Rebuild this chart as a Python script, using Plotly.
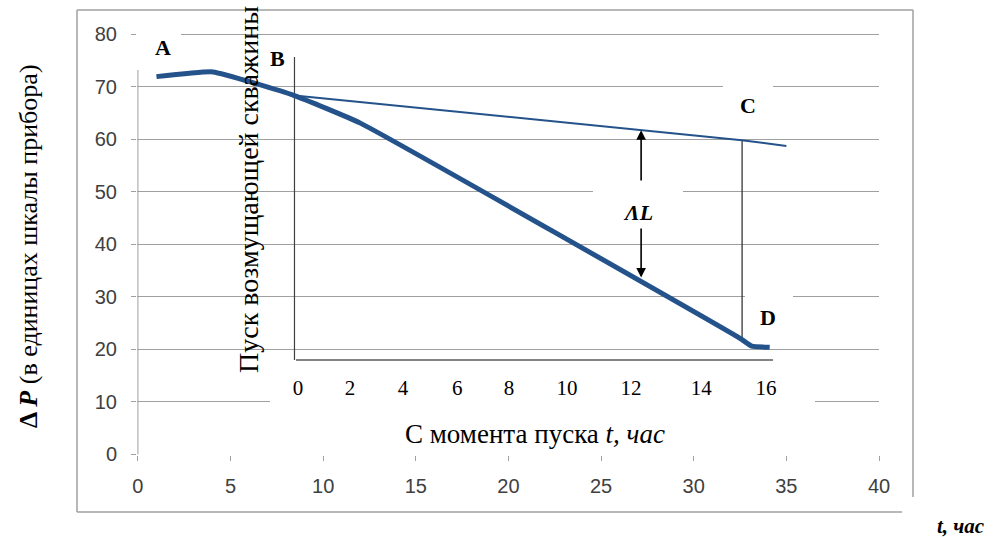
import numpy as np
import plotly.graph_objects as go

# ---------------- data ----------------
# thick curve, in main-axis hours / instrument units
main_t = [1.0, 4.05, 8.45, 11.98, 32.5, 33.14, 34.1]
main_dp = [71.9, 72.8, 68.3, 63.1, 22.1, 20.6, 20.4]
# thin extrapolation line B -> C
thin_t = [8.45, 32.6, 35.0]
thin_dp = [68.3, 59.8, 58.7]
# main axis ticks
x_ticks = [0, 5, 10, 15, 20, 25, 30, 35, 40]
y_ticks = [0, 10, 20, 30, 40, 50, 60, 70, 80]
# inner "since start" axis: labels and where they sit on the main hour axis
inner_labels = ["0", "2", "4", "6", "8", "10", "12", "14", "16"]
inner_pos = [8.64, 11.45, 14.31, 17.23, 20.03, 23.16, 26.62, 30.40, 33.9]
x_C = 32.61          # moment C / D on main axis
x_dL = 27.16         # where ΔL is measured

# ---------------- layout constants ----------------
W, H = 995, 538
ML, MR, MT, MB = 137, 116, 33, 83
XR = [-0.05, 40]
YR = [-0.1, 80.2]
PW, PH = W - ML - MR, H - MT - MB
sx = PW / (XR[1] - XR[0])
sy = PH / (YR[1] - YR[0])


def XD(p):  # pixel -> data x
    return XR[0] + (p - ML) / sx


def YD(p):  # pixel -> data y
    return YR[0] + (H - MB - p) / sy


def XP(p):  # pixel -> paper x
    return (p - ML) / PW


def YP(p):  # pixel -> paper y
    return (H - MB - p) / PH


SERIF = "Liberation Serif, Times New Roman, serif"
SANS = "Liberation Sans, Arial, sans-serif"
BLUE = "#24528a"
GRID = "#a0a0a0"

fig = go.Figure()
fig.add_trace(go.Scatter(
    x=main_t, y=main_dp, mode="lines",
    line=dict(color=BLUE, width=5, shape="spline", smoothing=0.35),
    hoverinfo="skip", showlegend=False))
fig.add_trace(go.Scatter(
    x=thin_t, y=thin_dp, mode="lines", xaxis="x2",
    line=dict(color=BLUE, width=2),
    hoverinfo="skip", showlegend=False))

shapes = []
# main y axis line (drawn as shape so label boxes can hide part of it)
shapes.append(dict(type="line", xref="x", yref="y", layer="between",
                   x0=0, x1=0, y0=0, y1=80, line=dict(color=GRID, width=1)))
# white label backgrounds
for (x0, x1, y0, y1) in [(136.5, 181, 20, 70),     # A
                         (723, 773, 75, 130),      # C
                         (593, 683, 183, 226),     # ΔL
                         (745, 793, 285, 335),     # D
                         (270, 815, 365, 412),     # inner tick labels
                         (368, 703, 415, 460)]:    # inner title
    shapes.append(dict(type="rect", xref="x", yref="y", layer="between",
                       x0=XD(x0), x1=XD(x1), y0=YD(y1), y1=YD(y0),
                       fillcolor="white", line=dict(width=0)))
# inner axis line and start line at B
y_inner = YD(360)
shapes.append(dict(type="line", xref="x", yref="y", layer="between",
                   x0=XD(296), x1=XD(773), y0=y_inner, y1=y_inner,
                   line=dict(color="#5a5a5a", width=1.5)))
shapes.append(dict(type="line", xref="x", yref="y", layer="between",
                   x0=thin_t[0], x1=thin_t[0], y0=y_inner, y1=YD(57),
                   line=dict(color="#404040", width=1.2)))
# C - D vertical
yC = float(np.interp(x_C, thin_t, thin_dp))
yD = float(np.interp(x_C, main_t, main_dp))
shapes.append(dict(type="line", xref="x", yref="y", layer="between",
                   x0=x_C, x1=x_C, y0=yD, y1=yC,
                   line=dict(color="#262626", width=1.2)))
# outer frame
fc = dict(color="#a0a0a0", width=1.5)
shapes += [
    dict(type="line", xref="paper", yref="paper", layer="above",
         x0=XP(77), x1=XP(77), y0=YP(10), y1=YP(512), line=fc),
    dict(type="line", xref="paper", yref="paper", layer="above",
         x0=XP(77), x1=XP(913), y0=YP(10), y1=YP(10), line=fc),
    dict(type="line", xref="paper", yref="paper", layer="above",
         x0=XP(913), x1=XP(913), y0=YP(10), y1=YP(497), line=fc),
    dict(type="line", xref="paper", yref="paper", layer="above",
         x0=XP(77), x1=XP(902), y0=YP(512), y1=YP(512), line=fc),
]

ann = []


def add_text(text, px, py, size, angle=0):
    ann.append(dict(text=text, xref="paper", yref="paper", x=XP(px), y=YP(py),
                    showarrow=False, textangle=angle,
                    font=dict(family=SERIF, size=size, color="black"),
                    xanchor="center", yanchor="middle"))


for t, px, py in [("<b>A</b>", 163, 47), ("<b>B</b>", 277, 59),
                  ("<b>C</b>", 748, 105), ("<b>D</b>", 768, 317),
                  ("<b><i>ΛL</i></b>", 638, 212)]:
    add_text(t, px, py, 22)
# ΔL arrows
y_up = float(np.interp(x_dL, thin_t, thin_dp))
y_lo = float(np.interp(x_dL, main_t, main_dp)) + 0.9
for tip, tail in [(y_up, YD(182)), (y_lo, YD(227))]:
    ann.append(dict(x=x_dL, y=tip, ax=x_dL, ay=tail, xref="x", yref="y",
                    axref="x", ayref="y", text="", showarrow=True, arrowhead=2,
                    arrowsize=1.2, arrowwidth=1.6, arrowcolor="black"))
add_text("Пуск возмущающей скважины", 248, 190, 28, -90)
add_text("С момента пуска <i>t, час</i>", 535, 434, 27)
add_text("<b>Δ <i>P</i></b> (в единицах шкалы прибора)", 29, 246, 26, -90)
add_text("<b><i>t, час</i></b>", 961, 526, 21)

fig.update_layout(
    width=W, height=H,
    margin=dict(l=ML, r=MR, t=MT, b=MB, pad=0),
    paper_bgcolor="white", plot_bgcolor="white",
    showlegend=False,
    xaxis=dict(range=XR, tickvals=x_ticks, showgrid=False, zeroline=False,
               showline=False, ticks="outside", ticklen=5, tickcolor=GRID,
               tickfont=dict(family=SANS, size=20, color="#404040"),
               ticklabelstandoff=8),
    yaxis=dict(range=YR, tickvals=y_ticks, showgrid=True, gridcolor=GRID,
               gridwidth=1, zeroline=False, showline=False, ticks="outside",
               ticklen=5, tickcolor=GRID,
               tickfont=dict(family=SANS, size=20, color="#404040"),
               ticklabelstandoff=10),
    xaxis2=dict(range=XR, overlaying="x", anchor="free", position=YP(373),
                side="bottom", tickvals=inner_pos, ticktext=inner_labels,
                showgrid=False, zeroline=False, showline=False, ticks="",
                tickfont=dict(family=SERIF, size=21, color="black")),
    shapes=shapes, annotations=ann,
)

fig.write_html(
    "out.html",
    config={"displayModeBar": False, "staticPlot": True},
    post_script="document.body.style.margin='0';document.body.style.overflow='hidden';",
)
